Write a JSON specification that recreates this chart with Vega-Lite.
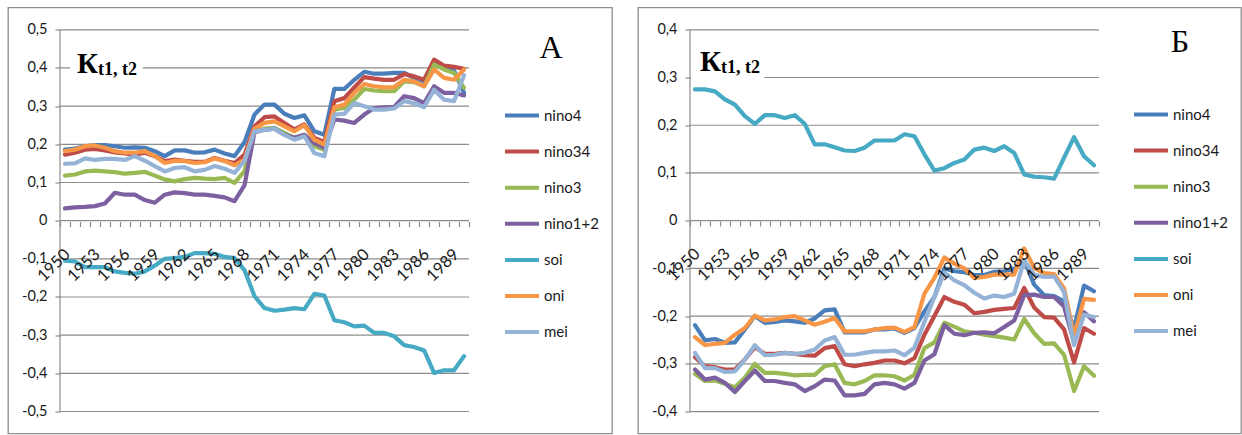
{
"$schema": "https://vega.github.io/schema/vega-lite/v6.json",
"padding": {"left": 7, "top": 6.5, "right": 0, "bottom": 0},
"background": "white",
"bounds": "flush",
"spacing": 26,
"datasets": {
"gA": [{"g":-0.5},{"g":-0.4},{"g":-0.3},{"g":-0.2},{"g":-0.1},{"g":0},{"g":0.1},{"g":0.2},{"g":0.3},{"g":0.4},{"g":0.5}],
"gB": [{"g":-0.4},{"g":-0.3},{"g":-0.2},{"g":-0.1},{"g":0},{"g":0.1},{"g":0.2},{"g":0.3},{"g":0.4}],
"A": [
{"s":"nino4","t":1950,"v":0.186},{"s":"nino4","t":1951,"v":0.189},{"s":"nino4","t":1952,"v":0.195},{"s":"nino4","t":1953,"v":0.198},{"s":"nino4","t":1954,"v":0.198},{"s":"nino4","t":1955,"v":0.195},{"s":"nino4","t":1956,"v":0.191},{"s":"nino4","t":1957,"v":0.192},{"s":"nino4","t":1958,"v":0.191},{"s":"nino4","t":1959,"v":0.182},
{"s":"nino4","t":1960,"v":0.169},{"s":"nino4","t":1961,"v":0.184},{"s":"nino4","t":1962,"v":0.184},{"s":"nino4","t":1963,"v":0.178},{"s":"nino4","t":1964,"v":0.179},{"s":"nino4","t":1965,"v":0.186},{"s":"nino4","t":1966,"v":0.176},{"s":"nino4","t":1967,"v":0.169},{"s":"nino4","t":1968,"v":0.206},{"s":"nino4","t":1969,"v":0.278},
{"s":"nino4","t":1970,"v":0.304},{"s":"nino4","t":1971,"v":0.304},{"s":"nino4","t":1972,"v":0.280},{"s":"nino4","t":1973,"v":0.269},{"s":"nino4","t":1974,"v":0.276},{"s":"nino4","t":1975,"v":0.234},{"s":"nino4","t":1976,"v":0.225},{"s":"nino4","t":1977,"v":0.345},{"s":"nino4","t":1978,"v":0.345},{"s":"nino4","t":1979,"v":0.369},
{"s":"nino4","t":1980,"v":0.390},{"s":"nino4","t":1981,"v":0.385},{"s":"nino4","t":1982,"v":0.385},{"s":"nino4","t":1983,"v":0.387},{"s":"nino4","t":1984,"v":0.387},{"s":"nino4","t":1985,"v":0.374},{"s":"nino4","t":1986,"v":0.365},{"s":"nino4","t":1987,"v":0.413},{"s":"nino4","t":1988,"v":0.400},{"s":"nino4","t":1989,"v":0.393},{"s":"nino4","t":1990,"v":0.335},
{"s":"nino34","t":1950,"v":0.173},{"s":"nino34","t":1951,"v":0.178},{"s":"nino34","t":1952,"v":0.186},{"s":"nino34","t":1953,"v":0.188},{"s":"nino34","t":1954,"v":0.184},{"s":"nino34","t":1955,"v":0.179},{"s":"nino34","t":1956,"v":0.176},{"s":"nino34","t":1957,"v":0.173},{"s":"nino34","t":1958,"v":0.178},{"s":"nino34","t":1959,"v":0.169},
{"s":"nino34","t":1960,"v":0.156},{"s":"nino34","t":1961,"v":0.160},{"s":"nino34","t":1962,"v":0.157},{"s":"nino34","t":1963,"v":0.154},{"s":"nino34","t":1964,"v":0.154},{"s":"nino34","t":1965,"v":0.164},{"s":"nino34","t":1966,"v":0.157},{"s":"nino34","t":1967,"v":0.151},{"s":"nino34","t":1968,"v":0.173},{"s":"nino34","t":1969,"v":0.247},
{"s":"nino34","t":1970,"v":0.271},{"s":"nino34","t":1971,"v":0.273},{"s":"nino34","t":1972,"v":0.256},{"s":"nino34","t":1973,"v":0.239},{"s":"nino34","t":1974,"v":0.252},{"s":"nino34","t":1975,"v":0.217},{"s":"nino34","t":1976,"v":0.206},{"s":"nino34","t":1977,"v":0.313},{"s":"nino34","t":1978,"v":0.321},{"s":"nino34","t":1979,"v":0.349},
{"s":"nino34","t":1980,"v":0.376},{"s":"nino34","t":1981,"v":0.372},{"s":"nino34","t":1982,"v":0.369},{"s":"nino34","t":1983,"v":0.369},{"s":"nino34","t":1984,"v":0.384},{"s":"nino34","t":1985,"v":0.378},{"s":"nino34","t":1986,"v":0.369},{"s":"nino34","t":1987,"v":0.422},{"s":"nino34","t":1988,"v":0.406},{"s":"nino34","t":1989,"v":0.403},{"s":"nino34","t":1990,"v":0.398},
{"s":"nino3","t":1950,"v":0.118},{"s":"nino3","t":1951,"v":0.121},{"s":"nino3","t":1952,"v":0.129},{"s":"nino3","t":1953,"v":0.131},{"s":"nino3","t":1954,"v":0.129},{"s":"nino3","t":1955,"v":0.127},{"s":"nino3","t":1956,"v":0.123},{"s":"nino3","t":1957,"v":0.125},{"s":"nino3","t":1958,"v":0.128},{"s":"nino3","t":1959,"v":0.118},
{"s":"nino3","t":1960,"v":0.108},{"s":"nino3","t":1961,"v":0.103},{"s":"nino3","t":1962,"v":0.109},{"s":"nino3","t":1963,"v":0.112},{"s":"nino3","t":1964,"v":0.110},{"s":"nino3","t":1965,"v":0.109},{"s":"nino3","t":1966,"v":0.112},{"s":"nino3","t":1967,"v":0.099},{"s":"nino3","t":1968,"v":0.130},{"s":"nino3","t":1969,"v":0.234},
{"s":"nino3","t":1970,"v":0.241},{"s":"nino3","t":1971,"v":0.243},{"s":"nino3","t":1972,"v":0.230},{"s":"nino3","t":1973,"v":0.217},{"s":"nino3","t":1974,"v":0.225},{"s":"nino3","t":1975,"v":0.195},{"s":"nino3","t":1976,"v":0.186},{"s":"nino3","t":1977,"v":0.291},{"s":"nino3","t":1978,"v":0.295},{"s":"nino3","t":1979,"v":0.317},
{"s":"nino3","t":1980,"v":0.345},{"s":"nino3","t":1981,"v":0.341},{"s":"nino3","t":1982,"v":0.339},{"s":"nino3","t":1983,"v":0.339},{"s":"nino3","t":1984,"v":0.365},{"s":"nino3","t":1985,"v":0.363},{"s":"nino3","t":1986,"v":0.352},{"s":"nino3","t":1987,"v":0.409},{"s":"nino3","t":1988,"v":0.396},{"s":"nino3","t":1989,"v":0.387},{"s":"nino3","t":1990,"v":0.348},
{"s":"nino1+2","t":1950,"v":0.032},{"s":"nino1+2","t":1951,"v":0.035},{"s":"nino1+2","t":1952,"v":0.036},{"s":"nino1+2","t":1953,"v":0.038},{"s":"nino1+2","t":1954,"v":0.045},{"s":"nino1+2","t":1955,"v":0.073},{"s":"nino1+2","t":1956,"v":0.068},{"s":"nino1+2","t":1957,"v":0.068},{"s":"nino1+2","t":1958,"v":0.054},{"s":"nino1+2","t":1959,"v":0.047},
{"s":"nino1+2","t":1960,"v":0.068},{"s":"nino1+2","t":1961,"v":0.074},{"s":"nino1+2","t":1962,"v":0.072},{"s":"nino1+2","t":1963,"v":0.068},{"s":"nino1+2","t":1964,"v":0.068},{"s":"nino1+2","t":1965,"v":0.065},{"s":"nino1+2","t":1966,"v":0.061},{"s":"nino1+2","t":1967,"v":0.051},{"s":"nino1+2","t":1968,"v":0.093},{"s":"nino1+2","t":1969,"v":0.232},
{"s":"nino1+2","t":1970,"v":0.238},{"s":"nino1+2","t":1971,"v":0.241},{"s":"nino1+2","t":1972,"v":0.225},{"s":"nino1+2","t":1973,"v":0.217},{"s":"nino1+2","t":1974,"v":0.225},{"s":"nino1+2","t":1975,"v":0.203},{"s":"nino1+2","t":1976,"v":0.191},{"s":"nino1+2","t":1977,"v":0.265},{"s":"nino1+2","t":1978,"v":0.262},{"s":"nino1+2","t":1979,"v":0.256},
{"s":"nino1+2","t":1980,"v":0.278},{"s":"nino1+2","t":1981,"v":0.295},{"s":"nino1+2","t":1982,"v":0.297},{"s":"nino1+2","t":1983,"v":0.298},{"s":"nino1+2","t":1984,"v":0.326},{"s":"nino1+2","t":1985,"v":0.321},{"s":"nino1+2","t":1986,"v":0.308},{"s":"nino1+2","t":1987,"v":0.352},{"s":"nino1+2","t":1988,"v":0.335},{"s":"nino1+2","t":1989,"v":0.335},{"s":"nino1+2","t":1990,"v":0.328},
{"s":"soi","t":1950,"v":-0.105},{"s":"soi","t":1951,"v":-0.107},{"s":"soi","t":1952,"v":-0.122},{"s":"soi","t":1953,"v":-0.122},{"s":"soi","t":1954,"v":-0.122},{"s":"soi","t":1955,"v":-0.133},{"s":"soi","t":1956,"v":-0.137},{"s":"soi","t":1957,"v":-0.139},{"s":"soi","t":1958,"v":-0.133},{"s":"soi","t":1959,"v":-0.118},
{"s":"soi","t":1960,"v":-0.100},{"s":"soi","t":1961,"v":-0.098},{"s":"soi","t":1962,"v":-0.095},{"s":"soi","t":1963,"v":-0.085},{"s":"soi","t":1964,"v":-0.085},{"s":"soi","t":1965,"v":-0.087},{"s":"soi","t":1966,"v":-0.095},{"s":"soi","t":1967,"v":-0.098},{"s":"soi","t":1968,"v":-0.130},{"s":"soi","t":1969,"v":-0.198},
{"s":"soi","t":1970,"v":-0.229},{"s":"soi","t":1971,"v":-0.236},{"s":"soi","t":1972,"v":-0.233},{"s":"soi","t":1973,"v":-0.229},{"s":"soi","t":1974,"v":-0.232},{"s":"soi","t":1975,"v":-0.192},{"s":"soi","t":1976,"v":-0.196},{"s":"soi","t":1977,"v":-0.261},{"s":"soi","t":1978,"v":-0.266},{"s":"soi","t":1979,"v":-0.277},
{"s":"soi","t":1980,"v":-0.275},{"s":"soi","t":1981,"v":-0.294},{"s":"soi","t":1982,"v":-0.294},{"s":"soi","t":1983,"v":-0.303},{"s":"soi","t":1984,"v":-0.326},{"s":"soi","t":1985,"v":-0.331},{"s":"soi","t":1986,"v":-0.340},{"s":"soi","t":1987,"v":-0.399},{"s":"soi","t":1988,"v":-0.392},{"s":"soi","t":1989,"v":-0.392},{"s":"soi","t":1990,"v":-0.355},
{"s":"oni","t":1950,"v":0.182},{"s":"oni","t":1951,"v":0.186},{"s":"oni","t":1952,"v":0.195},{"s":"oni","t":1953,"v":0.197},{"s":"oni","t":1954,"v":0.191},{"s":"oni","t":1955,"v":0.182},{"s":"oni","t":1956,"v":0.178},{"s":"oni","t":1957,"v":0.178},{"s":"oni","t":1958,"v":0.182},{"s":"oni","t":1959,"v":0.169},
{"s":"oni","t":1960,"v":0.151},{"s":"oni","t":1961,"v":0.157},{"s":"oni","t":1962,"v":0.156},{"s":"oni","t":1963,"v":0.151},{"s":"oni","t":1964,"v":0.153},{"s":"oni","t":1965,"v":0.163},{"s":"oni","t":1966,"v":0.156},{"s":"oni","t":1967,"v":0.145},{"s":"oni","t":1968,"v":0.160},{"s":"oni","t":1969,"v":0.241},
{"s":"oni","t":1970,"v":0.256},{"s":"oni","t":1971,"v":0.260},{"s":"oni","t":1972,"v":0.247},{"s":"oni","t":1973,"v":0.234},{"s":"oni","t":1974,"v":0.250},{"s":"oni","t":1975,"v":0.212},{"s":"oni","t":1976,"v":0.199},{"s":"oni","t":1977,"v":0.297},{"s":"oni","t":1978,"v":0.304},{"s":"oni","t":1979,"v":0.335},
{"s":"oni","t":1980,"v":0.358},{"s":"oni","t":1981,"v":0.352},{"s":"oni","t":1982,"v":0.349},{"s":"oni","t":1983,"v":0.350},{"s":"oni","t":1984,"v":0.369},{"s":"oni","t":1985,"v":0.365},{"s":"oni","t":1986,"v":0.352},{"s":"oni","t":1987,"v":0.396},{"s":"oni","t":1988,"v":0.374},{"s":"oni","t":1989,"v":0.369},{"s":"oni","t":1990,"v":0.396},
{"s":"mei","t":1950,"v":0.149},{"s":"mei","t":1951,"v":0.150},{"s":"mei","t":1952,"v":0.163},{"s":"mei","t":1953,"v":0.159},{"s":"mei","t":1954,"v":0.162},{"s":"mei","t":1955,"v":0.162},{"s":"mei","t":1956,"v":0.159},{"s":"mei","t":1957,"v":0.169},{"s":"mei","t":1958,"v":0.157},{"s":"mei","t":1959,"v":0.143},
{"s":"mei","t":1960,"v":0.129},{"s":"mei","t":1961,"v":0.138},{"s":"mei","t":1962,"v":0.140},{"s":"mei","t":1963,"v":0.129},{"s":"mei","t":1964,"v":0.133},{"s":"mei","t":1965,"v":0.143},{"s":"mei","t":1966,"v":0.136},{"s":"mei","t":1967,"v":0.125},{"s":"mei","t":1968,"v":0.157},{"s":"mei","t":1969,"v":0.234},
{"s":"mei","t":1970,"v":0.238},{"s":"mei","t":1971,"v":0.241},{"s":"mei","t":1972,"v":0.225},{"s":"mei","t":1973,"v":0.212},{"s":"mei","t":1974,"v":0.221},{"s":"mei","t":1975,"v":0.177},{"s":"mei","t":1976,"v":0.169},{"s":"mei","t":1977,"v":0.278},{"s":"mei","t":1978,"v":0.280},{"s":"mei","t":1979,"v":0.308},
{"s":"mei","t":1980,"v":0.300},{"s":"mei","t":1981,"v":0.291},{"s":"mei","t":1982,"v":0.291},{"s":"mei","t":1983,"v":0.294},{"s":"mei","t":1984,"v":0.313},{"s":"mei","t":1985,"v":0.308},{"s":"mei","t":1986,"v":0.297},{"s":"mei","t":1987,"v":0.343},{"s":"mei","t":1988,"v":0.317},{"s":"mei","t":1989,"v":0.313},{"s":"mei","t":1990,"v":0.381}
],
"B": [
{"s":"nino4","t":1950,"v":-0.219},{"s":"nino4","t":1951,"v":-0.251},{"s":"nino4","t":1952,"v":-0.248},{"s":"nino4","t":1953,"v":-0.256},{"s":"nino4","t":1954,"v":-0.255},{"s":"nino4","t":1955,"v":-0.228},{"s":"nino4","t":1956,"v":-0.200},{"s":"nino4","t":1957,"v":-0.214},{"s":"nino4","t":1958,"v":-0.212},{"s":"nino4","t":1959,"v":-0.209},
{"s":"nino4","t":1960,"v":-0.211},{"s":"nino4","t":1961,"v":-0.214},{"s":"nino4","t":1962,"v":-0.205},{"s":"nino4","t":1963,"v":-0.188},{"s":"nino4","t":1964,"v":-0.186},{"s":"nino4","t":1965,"v":-0.234},{"s":"nino4","t":1966,"v":-0.234},{"s":"nino4","t":1967,"v":-0.234},{"s":"nino4","t":1968,"v":-0.228},{"s":"nino4","t":1969,"v":-0.228},
{"s":"nino4","t":1970,"v":-0.226},{"s":"nino4","t":1971,"v":-0.235},{"s":"nino4","t":1972,"v":-0.225},{"s":"nino4","t":1973,"v":-0.190},{"s":"nino4","t":1974,"v":-0.160},{"s":"nino4","t":1975,"v":-0.100},{"s":"nino4","t":1976,"v":-0.106},{"s":"nino4","t":1977,"v":-0.108},{"s":"nino4","t":1978,"v":-0.114},{"s":"nino4","t":1979,"v":-0.114},
{"s":"nino4","t":1980,"v":-0.107},{"s":"nino4","t":1981,"v":-0.106},{"s":"nino4","t":1982,"v":-0.101},{"s":"nino4","t":1983,"v":-0.083},{"s":"nino4","t":1984,"v":-0.134},{"s":"nino4","t":1985,"v":-0.156},{"s":"nino4","t":1986,"v":-0.158},{"s":"nino4","t":1987,"v":-0.169},{"s":"nino4","t":1988,"v":-0.226},{"s":"nino4","t":1989,"v":-0.136},{"s":"nino4","t":1990,"v":-0.148},
{"s":"nino34","t":1950,"v":-0.286},{"s":"nino34","t":1951,"v":-0.305},{"s":"nino34","t":1952,"v":-0.307},{"s":"nino34","t":1953,"v":-0.312},{"s":"nino34","t":1954,"v":-0.312},{"s":"nino34","t":1955,"v":-0.291},{"s":"nino34","t":1956,"v":-0.265},{"s":"nino34","t":1957,"v":-0.279},{"s":"nino34","t":1958,"v":-0.279},{"s":"nino34","t":1959,"v":-0.277},
{"s":"nino34","t":1960,"v":-0.279},{"s":"nino34","t":1961,"v":-0.282},{"s":"nino34","t":1962,"v":-0.283},{"s":"nino34","t":1963,"v":-0.267},{"s":"nino34","t":1964,"v":-0.263},{"s":"nino34","t":1965,"v":-0.301},{"s":"nino34","t":1966,"v":-0.305},{"s":"nino34","t":1967,"v":-0.301},{"s":"nino34","t":1968,"v":-0.298},{"s":"nino34","t":1969,"v":-0.293},
{"s":"nino34","t":1970,"v":-0.293},{"s":"nino34","t":1971,"v":-0.299},{"s":"nino34","t":1972,"v":-0.288},{"s":"nino34","t":1973,"v":-0.239},{"s":"nino34","t":1974,"v":-0.200},{"s":"nino34","t":1975,"v":-0.160},{"s":"nino34","t":1976,"v":-0.170},{"s":"nino34","t":1977,"v":-0.176},{"s":"nino34","t":1978,"v":-0.194},{"s":"nino34","t":1979,"v":-0.191},
{"s":"nino34","t":1980,"v":-0.187},{"s":"nino34","t":1981,"v":-0.185},{"s":"nino34","t":1982,"v":-0.183},{"s":"nino34","t":1983,"v":-0.141},{"s":"nino34","t":1984,"v":-0.182},{"s":"nino34","t":1985,"v":-0.202},{"s":"nino34","t":1986,"v":-0.203},{"s":"nino34","t":1987,"v":-0.228},{"s":"nino34","t":1988,"v":-0.297},{"s":"nino34","t":1989,"v":-0.225},{"s":"nino34","t":1990,"v":-0.237},
{"s":"nino3","t":1950,"v":-0.321},{"s":"nino3","t":1951,"v":-0.336},{"s":"nino3","t":1952,"v":-0.335},{"s":"nino3","t":1953,"v":-0.342},{"s":"nino3","t":1954,"v":-0.349},{"s":"nino3","t":1955,"v":-0.329},{"s":"nino3","t":1956,"v":-0.300},{"s":"nino3","t":1957,"v":-0.319},{"s":"nino3","t":1958,"v":-0.319},{"s":"nino3","t":1959,"v":-0.321},
{"s":"nino3","t":1960,"v":-0.324},{"s":"nino3","t":1961,"v":-0.323},{"s":"nino3","t":1962,"v":-0.323},{"s":"nino3","t":1963,"v":-0.305},{"s":"nino3","t":1964,"v":-0.301},{"s":"nino3","t":1965,"v":-0.340},{"s":"nino3","t":1966,"v":-0.343},{"s":"nino3","t":1967,"v":-0.336},{"s":"nino3","t":1968,"v":-0.324},{"s":"nino3","t":1969,"v":-0.324},
{"s":"nino3","t":1970,"v":-0.326},{"s":"nino3","t":1971,"v":-0.335},{"s":"nino3","t":1972,"v":-0.323},{"s":"nino3","t":1973,"v":-0.267},{"s":"nino3","t":1974,"v":-0.255},{"s":"nino3","t":1975,"v":-0.214},{"s":"nino3","t":1976,"v":-0.222},{"s":"nino3","t":1977,"v":-0.232},{"s":"nino3","t":1978,"v":-0.235},{"s":"nino3","t":1979,"v":-0.239},
{"s":"nino3","t":1980,"v":-0.242},{"s":"nino3","t":1981,"v":-0.245},{"s":"nino3","t":1982,"v":-0.249},{"s":"nino3","t":1983,"v":-0.206},{"s":"nino3","t":1984,"v":-0.236},{"s":"nino3","t":1985,"v":-0.258},{"s":"nino3","t":1986,"v":-0.257},{"s":"nino3","t":1987,"v":-0.281},{"s":"nino3","t":1988,"v":-0.357},{"s":"nino3","t":1989,"v":-0.305},{"s":"nino3","t":1990,"v":-0.325},
{"s":"nino1+2","t":1950,"v":-0.312},{"s":"nino1+2","t":1951,"v":-0.333},{"s":"nino1+2","t":1952,"v":-0.329},{"s":"nino1+2","t":1953,"v":-0.340},{"s":"nino1+2","t":1954,"v":-0.359},{"s":"nino1+2","t":1955,"v":-0.336},{"s":"nino1+2","t":1956,"v":-0.314},{"s":"nino1+2","t":1957,"v":-0.336},{"s":"nino1+2","t":1958,"v":-0.336},{"s":"nino1+2","t":1959,"v":-0.340},
{"s":"nino1+2","t":1960,"v":-0.343},{"s":"nino1+2","t":1961,"v":-0.357},{"s":"nino1+2","t":1962,"v":-0.347},{"s":"nino1+2","t":1963,"v":-0.333},{"s":"nino1+2","t":1964,"v":-0.335},{"s":"nino1+2","t":1965,"v":-0.366},{"s":"nino1+2","t":1966,"v":-0.366},{"s":"nino1+2","t":1967,"v":-0.363},{"s":"nino1+2","t":1968,"v":-0.343},{"s":"nino1+2","t":1969,"v":-0.340},
{"s":"nino1+2","t":1970,"v":-0.343},{"s":"nino1+2","t":1971,"v":-0.352},{"s":"nino1+2","t":1972,"v":-0.340},{"s":"nino1+2","t":1973,"v":-0.293},{"s":"nino1+2","t":1974,"v":-0.280},{"s":"nino1+2","t":1975,"v":-0.219},{"s":"nino1+2","t":1976,"v":-0.237},{"s":"nino1+2","t":1977,"v":-0.240},{"s":"nino1+2","t":1978,"v":-0.235},{"s":"nino1+2","t":1979,"v":-0.234},
{"s":"nino1+2","t":1980,"v":-0.236},{"s":"nino1+2","t":1981,"v":-0.223},{"s":"nino1+2","t":1982,"v":-0.209},{"s":"nino1+2","t":1983,"v":-0.156},{"s":"nino1+2","t":1984,"v":-0.155},{"s":"nino1+2","t":1985,"v":-0.160},{"s":"nino1+2","t":1986,"v":-0.160},{"s":"nino1+2","t":1987,"v":-0.180},{"s":"nino1+2","t":1988,"v":-0.255},{"s":"nino1+2","t":1989,"v":-0.192},{"s":"nino1+2","t":1990,"v":-0.211},
{"s":"soi","t":1950,"v":0.275},{"s":"soi","t":1951,"v":0.275},{"s":"soi","t":1952,"v":0.271},{"s":"soi","t":1953,"v":0.254},{"s":"soi","t":1954,"v":0.243},{"s":"soi","t":1955,"v":0.219},{"s":"soi","t":1956,"v":0.203},{"s":"soi","t":1957,"v":0.221},{"s":"soi","t":1958,"v":0.221},{"s":"soi","t":1959,"v":0.215},
{"s":"soi","t":1960,"v":0.221},{"s":"soi","t":1961,"v":0.203},{"s":"soi","t":1962,"v":0.160},{"s":"soi","t":1963,"v":0.160},{"s":"soi","t":1964,"v":0.154},{"s":"soi","t":1965,"v":0.147},{"s":"soi","t":1966,"v":0.146},{"s":"soi","t":1967,"v":0.153},{"s":"soi","t":1968,"v":0.168},{"s":"soi","t":1969,"v":0.168},
{"s":"soi","t":1970,"v":0.168},{"s":"soi","t":1971,"v":0.181},{"s":"soi","t":1972,"v":0.177},{"s":"soi","t":1973,"v":0.139},{"s":"soi","t":1974,"v":0.105},{"s":"soi","t":1975,"v":0.110},{"s":"soi","t":1976,"v":0.121},{"s":"soi","t":1977,"v":0.128},{"s":"soi","t":1978,"v":0.149},{"s":"soi","t":1979,"v":0.153},
{"s":"soi","t":1980,"v":0.146},{"s":"soi","t":1981,"v":0.156},{"s":"soi","t":1982,"v":0.142},{"s":"soi","t":1983,"v":0.097},{"s":"soi","t":1984,"v":0.092},{"s":"soi","t":1985,"v":0.091},{"s":"soi","t":1986,"v":0.088},{"s":"soi","t":1987,"v":0.132},{"s":"soi","t":1988,"v":0.175},{"s":"soi","t":1989,"v":0.135},{"s":"soi","t":1990,"v":0.116},
{"s":"oni","t":1950,"v":-0.244},{"s":"oni","t":1951,"v":-0.261},{"s":"oni","t":1952,"v":-0.258},{"s":"oni","t":1953,"v":-0.256},{"s":"oni","t":1954,"v":-0.239},{"s":"oni","t":1955,"v":-0.225},{"s":"oni","t":1956,"v":-0.199},{"s":"oni","t":1957,"v":-0.209},{"s":"oni","t":1958,"v":-0.207},{"s":"oni","t":1959,"v":-0.202},
{"s":"oni","t":1960,"v":-0.200},{"s":"oni","t":1961,"v":-0.209},{"s":"oni","t":1962,"v":-0.218},{"s":"oni","t":1963,"v":-0.212},{"s":"oni","t":1964,"v":-0.204},{"s":"oni","t":1965,"v":-0.232},{"s":"oni","t":1966,"v":-0.232},{"s":"oni","t":1967,"v":-0.232},{"s":"oni","t":1968,"v":-0.228},{"s":"oni","t":1969,"v":-0.225},
{"s":"oni","t":1970,"v":-0.224},{"s":"oni","t":1971,"v":-0.233},{"s":"oni","t":1972,"v":-0.223},{"s":"oni","t":1973,"v":-0.153},{"s":"oni","t":1974,"v":-0.120},{"s":"oni","t":1975,"v":-0.077},{"s":"oni","t":1976,"v":-0.090},{"s":"oni","t":1977,"v":-0.100},{"s":"oni","t":1978,"v":-0.120},{"s":"oni","t":1979,"v":-0.118},
{"s":"oni","t":1980,"v":-0.113},{"s":"oni","t":1981,"v":-0.113},{"s":"oni","t":1982,"v":-0.113},{"s":"oni","t":1983,"v":-0.058},{"s":"oni","t":1984,"v":-0.099},{"s":"oni","t":1985,"v":-0.110},{"s":"oni","t":1986,"v":-0.112},{"s":"oni","t":1987,"v":-0.142},{"s":"oni","t":1988,"v":-0.242},{"s":"oni","t":1989,"v":-0.164},{"s":"oni","t":1990,"v":-0.166},
{"s":"mei","t":1950,"v":-0.277},{"s":"mei","t":1951,"v":-0.309},{"s":"mei","t":1952,"v":-0.309},{"s":"mei","t":1953,"v":-0.317},{"s":"mei","t":1954,"v":-0.316},{"s":"mei","t":1955,"v":-0.291},{"s":"mei","t":1956,"v":-0.261},{"s":"mei","t":1957,"v":-0.282},{"s":"mei","t":1958,"v":-0.281},{"s":"mei","t":1959,"v":-0.277},
{"s":"mei","t":1960,"v":-0.279},{"s":"mei","t":1961,"v":-0.277},{"s":"mei","t":1962,"v":-0.270},{"s":"mei","t":1963,"v":-0.251},{"s":"mei","t":1964,"v":-0.244},{"s":"mei","t":1965,"v":-0.281},{"s":"mei","t":1966,"v":-0.281},{"s":"mei","t":1967,"v":-0.277},{"s":"mei","t":1968,"v":-0.274},{"s":"mei","t":1969,"v":-0.274},
{"s":"mei","t":1970,"v":-0.272},{"s":"mei","t":1971,"v":-0.282},{"s":"mei","t":1972,"v":-0.266},{"s":"mei","t":1973,"v":-0.212},{"s":"mei","t":1974,"v":-0.160},{"s":"mei","t":1975,"v":-0.109},{"s":"mei","t":1976,"v":-0.125},{"s":"mei","t":1977,"v":-0.135},{"s":"mei","t":1978,"v":-0.151},{"s":"mei","t":1979,"v":-0.163},
{"s":"mei","t":1980,"v":-0.157},{"s":"mei","t":1981,"v":-0.160},{"s":"mei","t":1982,"v":-0.153},{"s":"mei","t":1983,"v":-0.083},{"s":"mei","t":1984,"v":-0.113},{"s":"mei","t":1985,"v":-0.118},{"s":"mei","t":1986,"v":-0.117},{"s":"mei","t":1987,"v":-0.150},{"s":"mei","t":1988,"v":-0.261},{"s":"mei","t":1989,"v":-0.197},{"s":"mei","t":1990,"v":-0.202}
]
},
"hconcat": [
{
"width": 604, "height": 426,
"resolve": {"axis": {"x": "independent", "y": "independent"}},
"layer": [
{"data": {"name": "gA"}, "mark": {"type": "rule", "color": "#8c8c8c", "strokeWidth": 1.2},
 "encoding": {"y": {"field": "g", "type": "quantitative", "scale": {"domain": [-0.5576, 0.5584], "nice": false, "zero": false},
   "axis": {"orient": "left", "offset": -52, "values": [-0.5,-0.4,-0.3,-0.2,-0.1,0,0.1,0.2,0.3,0.4,0.5],
    "labelExpr": "datum.value == 0 ? '0' : replace(replace(format(datum.value, '.1f'), '.', ','), '−', '-')",
    "domain": false, "grid": false, "ticks": true, "tickSize": 5, "tickColor": "#8c8c8c", "tickWidth": 1.2, "labelPadding": 8,
    "labelFont": "Lato", "labelFontSize": 14.5, "labelColor": "#1a1a1a", "title": null}},
  "x": {"datum": 1949.5, "type": "quantitative", "scale": {"domain": [1944.287, 2004.835], "nice": false, "zero": false},
   "axis": {"orient": "bottom", "offset": -212, "zindex": 1, "values": [1949.5,1950.5,1951.5,1952.5,1953.5,1954.5,1955.5,1956.5,1957.5,1958.5,1959.5,1960.5,1961.5,1962.5,1963.5,1964.5,1965.5,1966.5,1967.5,1968.5,1969.5,1970.5,1971.5,1972.5,1973.5,1974.5,1975.5,1976.5,1977.5,1978.5,1979.5,1980.5,1981.5,1982.5,1983.5,1984.5,1985.5,1986.5,1987.5,1988.5,1989.5,1990.5],
    "labelExpr": "((datum.value + 0.5 - 1950) % 3 == 0 && datum.value < 1990) ? format(datum.value + 0.5, 'd') : ''",
    "domain": false, "grid": false, "ticks": true, "tickSize": 5, "tickColor": "#8c8c8c", "tickWidth": 1.2,
    "labelAngle": -45, "labelAlign": "right", "labelBaseline": "middle", "labelPadding": 25, "labelOffset": 7,
    "labelOverlap": false, "labelFlush": false, "labelBound": false,
    "labelFont": "Lato", "labelFontSize": 16.5, "labelColor": "#1a1a1a", "title": null}},
  "x2": {"datum": 1990.5}}},
{"data": {"values": [{}]}, "mark": {"type": "rule", "color": "#8c8c8c", "strokeWidth": 1.2},
 "encoding": {"x": {"datum": 1949.5, "type": "quantitative", "scale": {"domain": [1944.287, 2004.835], "nice": false, "zero": false}, "axis": null},
  "y": {"datum": -0.5, "type": "quantitative", "scale": {"domain": [-0.5576, 0.5584], "nice": false, "zero": false}, "axis": null},
  "y2": {"datum": 0.5}}},
{"data": {"values": [{}]}, "mark": {"type": "rect", "fill": "white"},
 "encoding": {"x": {"datum": 1950.5, "type": "quantitative", "scale": {"domain": [1944.287, 2004.835], "nice": false, "zero": false}, "axis": null},
  "x2": {"datum": 1957.8},
  "y": {"datum": 0.38, "type": "quantitative", "scale": {"domain": [-0.5576, 0.5584], "nice": false, "zero": false}, "axis": null},
  "y2": {"datum": 0.42}}},
{"data": {"values": [{}]}, "mark": {"type": "text", "text": "К", "font": "Liberation Serif", "fontWeight": "bold", "fontSize": 29, "align": "left", "baseline": "alphabetic", "color": "black"},
 "encoding": {"x": {"datum": 1951.2, "type": "quantitative", "scale": {"domain": [1944.287, 2004.835], "nice": false, "zero": false}, "axis": null},
  "y": {"datum": 0.387, "type": "quantitative", "scale": {"domain": [-0.5576, 0.5584], "nice": false, "zero": false}, "axis": null}}},
{"data": {"values": [{}]}, "mark": {"type": "text", "text": "t1, t2", "font": "Liberation Serif", "fontWeight": "bold", "fontSize": 18, "align": "left", "baseline": "alphabetic", "color": "black"},
 "encoding": {"x": {"datum": 1953.3, "type": "quantitative", "scale": {"domain": [1944.287, 2004.835], "nice": false, "zero": false}, "axis": null},
  "y": {"datum": 0.382, "type": "quantitative", "scale": {"domain": [-0.5576, 0.5584], "nice": false, "zero": false}, "axis": null}}},
{"data": {"name": "A"}, "mark": {"type": "line", "strokeWidth": 4.2, "strokeJoin": "round", "strokeCap": "round"},
 "encoding": {
  "x": {"field": "t", "type": "quantitative", "scale": {"domain": [1944.287, 2004.835], "nice": false, "zero": false}, "axis": null},
  "y": {"field": "v", "type": "quantitative", "scale": {"domain": [-0.5576, 0.5584], "nice": false, "zero": false}, "axis": null},
  "color": {"field": "s", "type": "nominal",
   "scale": {"domain": ["nino4","nino34","nino3","nino1+2","soi","oni","mei"], "range": ["#4A7EBB","#BE4B48","#98B954","#7D60A0","#46AAC5","#F79646","#95B3D7"]},
   "legend": {"title": "А", "orient": "none", "legendX": 495, "legendY": 25, "padding": 0,
    "titleFont": "Liberation Serif", "titleFontSize": 32, "titleFontWeight": "normal", "titleColor": "black", "titleAnchor": "middle", "titleAlign": "center", "titlePadding": 32,
    "labelFont": "Lato", "labelFontSize": 15, "labelColor": "#1a1a1a", "labelOffset": 3,
    "symbolType": "stroke", "symbolSize": 1156, "symbolStrokeWidth": 4, "rowPadding": 9.1}}
 }}
]
},
{
"width": 603, "height": 426,
"resolve": {"axis": {"x": "independent", "y": "independent"}},
"layer": [
{"data": {"name": "gB"}, "mark": {"type": "rule", "color": "#8c8c8c", "strokeWidth": 1.2},
 "encoding": {"y": {"field": "g", "type": "quantitative", "scale": {"domain": [-0.446, 0.4467], "nice": false, "zero": false},
   "axis": {"orient": "left", "offset": -52, "values": [-0.4,-0.3,-0.2,-0.1,0,0.1,0.2,0.3,0.4],
    "labelExpr": "datum.value == 0 ? '0' : replace(replace(format(datum.value, '.1f'), '.', ','), '−', '-')",
    "domain": false, "grid": false, "ticks": true, "tickSize": 5, "tickColor": "#8c8c8c", "tickWidth": 1.2, "labelPadding": 8,
    "labelFont": "Lato", "labelFontSize": 14.5, "labelColor": "#1a1a1a", "title": null}},
  "x": {"datum": 1949.5, "type": "quantitative", "scale": {"domain": [1944.287, 2004.735], "nice": false, "zero": false},
   "axis": {"orient": "bottom", "offset": -212.5, "zindex": 1, "values": [1949.5,1950.5,1951.5,1952.5,1953.5,1954.5,1955.5,1956.5,1957.5,1958.5,1959.5,1960.5,1961.5,1962.5,1963.5,1964.5,1965.5,1966.5,1967.5,1968.5,1969.5,1970.5,1971.5,1972.5,1973.5,1974.5,1975.5,1976.5,1977.5,1978.5,1979.5,1980.5,1981.5,1982.5,1983.5,1984.5,1985.5,1986.5,1987.5,1988.5,1989.5,1990.5],
    "labelExpr": "((datum.value + 0.5 - 1950) % 3 == 0 && datum.value < 1990) ? format(datum.value + 0.5, 'd') : ''",
    "domain": false, "grid": false, "ticks": true, "tickSize": 5, "tickColor": "#8c8c8c", "tickWidth": 1.2,
    "labelAngle": -45, "labelAlign": "right", "labelBaseline": "middle", "labelPadding": 25, "labelOffset": 7,
    "labelOverlap": false, "labelFlush": false, "labelBound": false,
    "labelFont": "Lato", "labelFontSize": 16.5, "labelColor": "#1a1a1a", "title": null}},
  "x2": {"datum": 1990.5}}},
{"data": {"values": [{}]}, "mark": {"type": "rule", "color": "#8c8c8c", "strokeWidth": 1.2},
 "encoding": {"x": {"datum": 1949.5, "type": "quantitative", "scale": {"domain": [1944.287, 2004.735], "nice": false, "zero": false}, "axis": null},
  "y": {"datum": -0.4, "type": "quantitative", "scale": {"domain": [-0.446, 0.4467], "nice": false, "zero": false}, "axis": null},
  "y2": {"datum": 0.4}}},
{"data": {"values": [{}]}, "mark": {"type": "rect", "fill": "white"},
 "encoding": {"x": {"datum": 1949.6, "type": "quantitative", "scale": {"domain": [1944.287, 2004.735], "nice": false, "zero": false}, "axis": null},
  "x2": {"datum": 1956.95},
  "y": {"datum": 0.288, "type": "quantitative", "scale": {"domain": [-0.446, 0.4467], "nice": false, "zero": false}, "axis": null},
  "y2": {"datum": 0.312}}},
{"data": {"values": [{}]}, "mark": {"type": "text", "text": "К", "font": "Liberation Serif", "fontWeight": "bold", "fontSize": 29, "align": "left", "baseline": "alphabetic", "color": "black"},
 "encoding": {"x": {"datum": 1950.5, "type": "quantitative", "scale": {"domain": [1944.287, 2004.735], "nice": false, "zero": false}, "axis": null},
  "y": {"datum": 0.313, "type": "quantitative", "scale": {"domain": [-0.446, 0.4467], "nice": false, "zero": false}, "axis": null}}},
{"data": {"values": [{}]}, "mark": {"type": "text", "text": "t1, t2", "font": "Liberation Serif", "fontWeight": "bold", "fontSize": 18, "align": "left", "baseline": "alphabetic", "color": "black"},
 "encoding": {"x": {"datum": 1952.6, "type": "quantitative", "scale": {"domain": [1944.287, 2004.735], "nice": false, "zero": false}, "axis": null},
  "y": {"datum": 0.309, "type": "quantitative", "scale": {"domain": [-0.446, 0.4467], "nice": false, "zero": false}, "axis": null}}},
{"data": {"name": "B"}, "mark": {"type": "line", "strokeWidth": 4.2, "strokeJoin": "round", "strokeCap": "round"},
 "encoding": {
  "x": {"field": "t", "type": "quantitative", "scale": {"domain": [1944.287, 2004.735], "nice": false, "zero": false}, "axis": null},
  "y": {"field": "v", "type": "quantitative", "scale": {"domain": [-0.446, 0.4467], "nice": false, "zero": false}, "axis": null},
  "color": {"field": "s", "type": "nominal",
   "scale": {"domain": ["nino4","nino34","nino3","nino1+2","soi","oni","mei"], "range": ["#4A7EBB","#BE4B48","#98B954","#7D60A0","#46AAC5","#F79646","#95B3D7"]},
   "legend": {"title": "Б", "orient": "none", "legendX": 494, "legendY": 19, "padding": 0,
    "titleFont": "Liberation Serif", "titleFontSize": 32, "titleFontWeight": "normal", "titleColor": "black", "titleAnchor": "middle", "titleAlign": "center", "titlePadding": 37,
    "labelFont": "Lato", "labelFontSize": 15, "labelColor": "#1a1a1a", "labelOffset": 3,
    "symbolType": "stroke", "symbolSize": 1156, "symbolStrokeWidth": 4, "rowPadding": 9.1}}
 }}
]
}
],
"resolve": {"scale": {"x": "independent", "y": "independent", "color": "independent"}, "legend": {"color": "independent"}},
"config": {"view": {"stroke": "#8e8e8e", "strokeWidth": 1.3}, "font": "Lato"}
}
